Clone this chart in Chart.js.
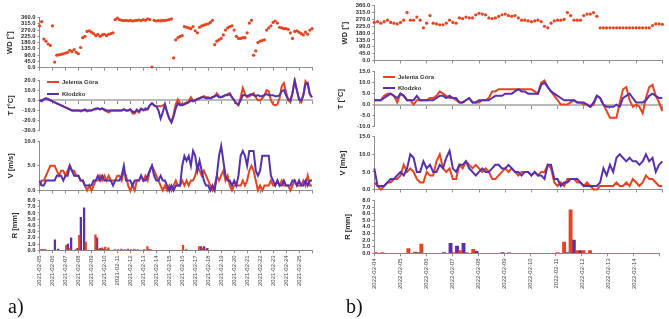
<!DOCTYPE html>
<html>
<head>
<meta charset="utf-8">
<title>Wind, temperature and precipitation – Jelenia Góra / Kłodzko</title>
<script src="https://cdn.jsdelivr.net/npm/chart.js@4.4.1/dist/chart.umd.min.js"></script>
<style>
  html, body { margin: 0; padding: 0; background: #fff; }
  #page { position: relative; width: 669px; height: 319px; overflow: hidden; font-family: 'Liberation Sans', Arial, sans-serif; }
  #page canvas { position: absolute; }
  .leg { position: absolute; font-size: 6px; font-weight: bold; color: #333; line-height: 7px; white-space: nowrap; }
  .leg b { display: inline-block; width: 12px; height: 2px; margin-right: 3px; vertical-align: middle; }
  .tag { position: absolute; font: 20px 'Liberation Serif', 'Times New Roman', serif; color: #111; line-height: 24px; }
</style>
</head>
<body>
<div id="page">
  <canvas id="wdA" width="330" height="64" style="left:0;top:10px"></canvas>
  <canvas id="tA" width="330" height="64" style="left:0;top:74px"></canvas>
  <canvas id="vA" width="330" height="61" style="left:0;top:135px"></canvas>
  <canvas id="rA" width="330" height="105" style="left:0;top:195px"></canvas>

  <canvas id="wdB" width="339" height="66" style="left:330px;top:0"></canvas>
  <canvas id="tB" width="339" height="66" style="left:330px;top:66px"></canvas>
  <canvas id="vB" width="339" height="64" style="left:330px;top:131px"></canvas>
  <canvas id="rB" width="339" height="105" style="left:330px;top:195px"></canvas>

  <div class="leg" style="left:47px;top:79px"><b style="background:#e8431c"></b>Jelenia Góra</div>
  <div class="leg" style="left:47px;top:91px"><b style="background:#5530b4"></b>Kłodzko</div>
  <div class="leg" style="left:383px;top:73.5px"><b style="background:#e8431c"></b>Jelenia Góra</div>
  <div class="leg" style="left:383px;top:84.5px"><b style="background:#5530b4"></b>Kłodzko</div>

  <div class="tag" style="left:8px;top:294px">a)</div>
  <div class="tag" style="left:346px;top:294px">b)</div>
</div>

<script>
// ---- data ---------------------------------------------------------------
const DAYS_A = ['2021-02-05', '2021-02-06', '2021-02-07', '2021-02-08', '2021-02-09', '2021-02-10', '2021-02-11',
  '2021-02-12', '2021-02-13', '2021-02-14', '2021-02-15', '2021-02-16', '2021-02-17', '2021-02-18',
  '2021-02-19', '2021-02-20', '2021-02-21', '2021-02-22', '2021-02-23', '2021-02-24', '2021-02-25'];
const DAYS_B = ['2022-02-04', '2022-02-05', '2022-02-06', '2022-02-07', '2022-02-08', '2022-02-09',
  '2022-02-10', '2022-02-11', '2022-02-12', '2022-02-13', '2022-02-14'];

// 2021 episode: 4-hourly readings from 2021-02-05 00:00
const WD_A = [300, 330, 205, 190, 170, 160, 300, 40, 90, 92, 95, 100, 105, 110, 125, 115, 130, 110,
  100, 145, 215, 225, 260, 265, 255, 245, 230, 240, 225, 235, 240, 230, 240, 245, 250, 345,
  355, 345, 340, 338, 340, 336, 340, 335, 338, 340, 342, 338, 345, 340, 350, 345, 5, 340,
  335, 338, 336, 340, 338, 342, 345, 350, 70, 200, 215, 225, 230, 295, 290, 285, 280, 295,
  265, 250, 290, 300, 305, 310, 315, 325, 340, 165, 190, 200, 210, 235, 270, 285, 295, 300,
  270, 225, 210, 210, 215, 215, 250, 320, 340, 90, 120, 180, 190, 195, 200, 270, 285, 300,
  325, 335, 320, 290, 285, 280, 280, 275, 250, 210, 260, 265, 255, 245, 235, 255, 240, 270, 280];
const T_A_JG = [0, 0, 1, 2, 1, 0, -1, -2, -3, -4, -5, -6, -7, -8, -9, -10, -10, -10,
  -10, -11, -10, -10, -11, -10, -10, -9, -9, -8, -9, -8, -10, -11, -12, -10, -10, -10,
  -10, -10, -10, -9, -10, -10, -9, -13, -13, -10, -12, -9, -9, -10, -8, -5, -3, -5,
  -6, -6, -6, -5, -4, -12, -18, -21, -14, -4, 1, -3, -4, -3, -2, -1, 3, 0,
  0, 1, 2, 3, 4, 3, 3, 2, 3, 4, 7, 4, 3, 4, 5, 6, 7, 3,
  0, -3, -5, 3, 12, 6, 3, 4, 5, 7, 3, 0, 0, 2, 5, 10, 9, 0,
  -4, -5, -4, 2, 14, 17, 8, 0, -2, 8, 20, 10, 1, -2, 5, 19, 16, 6, 3];
const T_A_KL = [0, -1, 1, 2, 1, 0, -1, -2, -3, -4, -5, -6, -7, -8, -9, -10, -10, -10,
  -10, -10, -10, -9, -10, -10, -10, -9, -8, -8, -9, -8, -9, -10, -10, -10, -10, -10,
  -10, -10, -10, -9, -10, -10, -9, -11, -12, -9, -11, -8, -10, -8, -9, -5, -3, -5,
  -6, -10, -18, -12, -4, -12, -18, -22, -16, -8, -3, -5, -5, -4, -3, -2, 0, -1,
  0, 1, 2, 3, 3, 2, 2, 2, 3, 4, 5, 3, 3, 4, 5, 5, 6, 3,
  0, -3, -4, 0, 5, 5, 4, 5, 6, 5, 4, 5, 4, 4, 5, 6, 5, 5,
  5, 4, 4, 5, 9, 10, 5, 1, 0, 7, 19, 10, 1, 0, 5, 16, 17, 6, 3];
const V_A_JG = [1, 2, 2, 3, 4, 5, 5, 5, 4, 3, 4, 4, 3, 4, 5, 4, 4, 3,
  3, 2, 2, 1, 0, 1, 0, 1, 2, 2, 3, 2, 3, 2, 3, 2, 2, 2,
  3, 3, 2, 4, 3, 1, 0, 1, 0, 2, 2, 3, 2, 3, 2, 4, 5, 4,
  3, 2, 1, 0, 1, 0, 1, 0, 1, 2, 1, 1, 2, 1, 2, 1, 2, 2,
  3, 5, 4, 3, 4, 3, 2, 1, 0, 1, 3, 2, 3, 4, 2, 3, 1, 0,
  1, 1, 1, 1, 2, 1, 2, 4, 5, 4, 2, 0, 1, 0, 1, 1, 1, 2,
  1, 1, 2, 1, 2, 1, 1, 1, 0, 1, 2, 1, 1, 1, 2, 1, 3, 1, 1];
const V_A_KL = [2, 1, 1, 2, 2, 2, 2, 2, 3, 3, 3, 2, 3, 3, 5, 4, 3, 3,
  3, 2, 2, 1, 1, 1, 1, 2, 2, 3, 2, 3, 2, 2, 2, 2, 1, 2,
  2, 2, 3, 5, 2, 2, 2, 1, 2, 2, 2, 3, 2, 2, 3, 4, 5, 3,
  2, 2, 3, 2, 2, 1, 0, 1, 0, 1, 1, 1, 5, 7, 6, 7, 5, 8,
  7, 4, 6, 4, 2, 1, 1, 0, 1, 0, 3, 7, 9, 6, 3, 2, 2, 1,
  2, 1, 3, 7, 8, 7, 5, 8, 8, 8, 4, 3, 4, 7, 7, 7, 7, 3,
  2, 1, 2, 1, 1, 2, 1, 1, 1, 2, 2, 1, 2, 1, 1, 2, 1, 2, 2];
// 6-hourly precipitation totals
const R_A_JG = [0.1, 0.1, 0, 0, 0, 0, 0, 0, 0.8, 0.3, 0, 0.1, 2.4, 0, 1.3, 0,
  0, 2.5, 0.2, 0.4, 0.5, 0.4, 0, 0.1, 0.1, 0.2, 0.1, 0.2, 0.1, 0.2, 0.1, 0,
  0.1, 0.6, 0.1, 0, 0, 0, 0, 0, 0, 0, 0, 0, 0.8, 0.1, 0, 0,
  0, 0.6, 0.4, 0.1, 0, 0, 0, 0, 0, 0, 0, 0, 0, 0, 0, 0,
  0, 0, 0, 0, 0, 0, 0, 0, 0, 0, 0, 0, 0, 0, 0, 0, 0, 0, 0, 0];
const R_A_KL = [0.1, 0.1, 0, 0, 1.7, 0.2, 0, 0, 1.0, 2.0, 0, 0.3, 5.3, 6.8, 0, 0,
  0, 2.0, 0.3, 0.2, 0.1, 0, 0, 0, 0, 0, 0, 0, 0, 0, 0, 0,
  0, 0.1, 0, 0, 0, 0, 0, 0, 0, 0, 0, 0, 0, 0, 0, 0,
  0, 0.6, 0.6, 0.3, 0, 0, 0, 0, 0, 0, 0, 0, 0, 0, 0, 0,
  0, 0, 0, 0, 0, 0, 0, 0, 0, 0, 0, 0, 0, 0, 0, 0, 0, 0, 0, 0];

// 2022 episode: 3-hourly readings from 2022-02-04 00:00
const WD_B = [250, 255, 245, 255, 265, 250, 245, 240, 250, 265, 315, 265, 265, 285, 265, 215,
  245, 295, 245, 240, 235, 235, 245, 265, 250, 245, 280, 275, 285, 280, 280, 300,
  310, 305, 300, 280, 275, 280, 290, 300, 305, 295, 290, 295, 280, 265, 265, 260,
  255, 260, 265, 255, 225, 215, 245, 260, 265, 265, 270, 315, 295, 265, 265, 265,
  295, 305, 305, 315, 290, 215, 215, 215, 215, 215, 215, 215, 215, 215, 215, 215,
  215, 215, 215, 215, 215, 230, 240, 240, 238];
const T_B_JG = [2, 2, 2, 4, 5, 5, 4, 1, 5, 4, 2, 2, 0, 2, 2, 2,
  2, 3, 3, 4, 6, 5, 4, 3, 3, 2, 1, 1, 2, 3, 1, 1,
  1, 2, 2, 3, 6, 6, 7, 7, 7, 7, 7, 7, 7, 7, 7, 7,
  7, 6, 5, 10, 11, 8, 6, 4, 2, 0, 0, 0, 1, 2, 1, 1,
  0, 0, -1, 0, 4, 3, 0, -3, -6, -6, -6, 1, 7, 8, 2, -1,
  0, -1, -4, 3, 8, 9, 4, 1, -3];
const T_B_KL = [2, 2, 2, 3, 4, 5, 4, 3, 5, 4, 2, 2, 2, 4, 2, 2,
  2, 2, 2, 3, 4, 4, 3, 4, 3, 3, 1, 1, 2, 3, 1, 1,
  2, 2, 2, 2, 3, 4, 4, 4, 5, 5, 5, 6, 7, 6, 6, 5,
  5, 5, 5, 9, 10, 8, 6, 5, 4, 3, 2, 2, 2, 2, 1, 1,
  1, 0, -1, 1, 4, 3, 0, -1, -1, -1, 0, -1, 3, 4, 5, 3,
  1, 1, 1, 2, 4, 5, 4, 3, 3];
const V_B_JG = [2, 1, 0, 1, 2, 2, 3, 3, 4, 7, 5, 6, 5, 3, 2, 2,
  5, 4, 4, 8, 10, 6, 5, 6, 3, 3, 7, 6, 8, 7, 6, 7,
  6, 5, 6, 5, 3, 3, 4, 5, 6, 5, 6, 5, 4, 5, 5, 5,
  4, 5, 4, 5, 5, 7, 6, 2, 1, 2, 1, 3, 3, 3, 2, 2,
  1, 2, 1, 0, 0, 1, 1, 1, 1, 1, 2, 1, 1, 2, 1, 3,
  2, 1, 2, 4, 3, 3, 2, 1, 1];
const V_B_KL = [6, 1, 1, 1, 2, 3, 3, 4, 5, 4, 6, 10, 9, 5, 5, 8,
  6, 7, 5, 5, 7, 6, 9, 11, 6, 5, 7, 7, 8, 6, 5, 4,
  5, 6, 5, 5, 6, 7, 7, 6, 6, 7, 6, 5, 5, 4, 5, 5,
  4, 5, 4, 4, 3, 7, 7, 3, 3, 1, 2, 2, 3, 3, 3, 2,
  1, 1, 1, 1, 1, 2, 6, 4, 7, 5, 9, 10, 9, 8, 9, 8,
  8, 7, 8, 10, 8, 9, 5, 7, 8];
const R_B_JG = [0.1, 0.1, 0, 0, 0, 0.7, 0.2, 1.4, 0, 0, 0, 0, 0.1, 0.4, 0.1, 0.6,
  0, 0, 0, 0, 0, 0, 0, 0, 0, 0, 0, 0, 0.1, 1.7, 6.6, 0.4,
  0.4, 0.4, 0, 0, 0, 0, 0, 0, 0, 0, 0, 0];
const R_B_KL = [0, 0, 0, 0, 0, 0, 0.1, 0, 0, 0, 0.1, 1.5, 1.1, 1.5, 0, 0.3,
  0, 0, 0, 0.1, 0.05, 0, 0, 0, 0, 0, 0, 0, 0, 0.1, 2.0, 0.4,
  0, 0, 0, 0, 0, 0, 0, 0, 0, 0, 0, 0];

// ---- styling ------------------------------------------------------------
const RED = '#e8431c', BLUE = '#5530b4';
const AXIS = '#8e8e8e', ZERO = '#b9b9b9', INK = '#2b2b2b';
const FONT = "'Liberation Sans', Arial, sans-serif";

const pts = (vals, stepH, offH = 0) => vals.map((v, i) => ({ x: i * stepH + offH, y: v }));

const line = (label, vals, stepH, color) => ({
  label, data: pts(vals, stepH), borderColor: color, backgroundColor: color,
  borderWidth: 2, pointRadius: 0, tension: 0, clip: 3,
});
const dots = (vals, stepH) => ({
  label: 'WD', data: pts(vals, stepH), showLine: false, pointRadius: 1.6,
  pointBorderWidth: 0, pointBackgroundColor: RED, clip: 3,
});
const bars = (label, vals, color) => ({
  label, data: pts(vals, 6, 3), backgroundColor: color, borderWidth: 0,
  categoryPercentage: 1, barPercentage: 1,
});

// o.left/top/right/bottom = plot-area edges inside the canvas
function panel(id, o) {
  const canvas = document.getElementById(id);
  const W = canvas.width, H = canvas.height;
  return new Chart(canvas, {
    type: o.type || 'line',
    data: { datasets: o.datasets },
    options: {
      responsive: false, animation: false, events: [],
      layout: { padding: { left: 0, top: o.top, right: W - o.right, bottom: o.zeroAxis ? H - o.bottom : 0 } },
      plugins: { legend: { display: false }, tooltip: { enabled: false } },
      scales: {
        x: {
          type: 'linear', min: 0, max: o.days * 24, offset: false,
          position: o.zeroAxis ? { y: 0 } : 'bottom',
          grid: { drawOnChartArea: false, drawTicks: true, tickLength: 3, color: AXIS, offset: false },
          border: { color: o.zeroAxis ? ZERO : AXIS, width: o.zeroAxis ? 2 : 1 },
          ticks: {
            stepSize: 24, autoSkip: false, display: !!o.dates,
            minRotation: o.dates ? 90 : 0, maxRotation: o.dates ? 90 : 0, padding: 2,
            color: '#444', font: { size: 6, family: FONT },
            callback: v => (o.dates && o.dates[Math.round(v / 24)]) || '',
          },
          afterFit: s => { if (!o.zeroAxis) s.height = H - o.bottom; },
        },
        y: {
          min: o.yMin, max: o.yMax,
          grid: { drawOnChartArea: false, tickLength: 2, color: AXIS },
          border: { color: AXIS },
          ticks: {
            stepSize: o.yStep, autoSkip: false, padding: 2, color: INK,
            font: { size: 5.8, weight: 'bold', family: FONT },
            callback: v => v.toFixed(1),
          },
          title: {
            display: true, text: o.title, color: INK,
            font: { size: 7.5, weight: 'bold', family: FONT },
            padding: { top: o.titlePad, bottom: 0 },
          },
          afterFit: s => { s.width = o.left; },
        },
      },
    },
  });
}

// ---- a) 2021 ------------------------------------------------------------
const A = { left: 39.5, right: 312, days: 21 };
panel('wdA', { ...A, top: 7.5, bottom: 57.7, yMin: 0, yMax: 360, yStep: 45, title: 'WD [°]', titlePad: 5,
  datasets: [dots(WD_A, 4)] });
panel('tA', { ...A, top: 6, bottom: 56.7, yMin: -30, yMax: 20, yStep: 10, title: 'T [°C]', titlePad: 6.3, zeroAxis: true,
  datasets: [line('Kłodzko', T_A_KL, 4, BLUE), line('Jelenia Góra', T_A_JG, 4, RED)] });
panel('vA', { ...A, top: 6, bottom: 56, yMin: 0, yMax: 10, yStep: 5, title: 'V [m/s]', titlePad: 6.7,
  datasets: [line('Kłodzko', V_A_KL, 4, BLUE), line('Jelenia Góra', V_A_JG, 4, RED)] });
panel('rA', { ...A, type: 'bar', top: 4.3, bottom: 55.3, yMin: 0, yMax: 8, yStep: 1, title: 'R [mm]', titlePad: 10,
  dates: DAYS_A, datasets: [bars('Jelenia Góra', R_A_JG, RED), bars('Kłodzko', R_A_KL, BLUE)] });

// ---- b) 2022 ------------------------------------------------------------
const B = { left: 44.3, right: 332.3, days: 11 };
panel('wdB', { ...B, top: 5.7, bottom: 61, yMin: 0, yMax: 360, yStep: 45, title: 'WD [°]', titlePad: 10.5,
  datasets: [dots(WD_B, 3)] });
panel('tB', { ...B, top: 5.7, bottom: 60.7, yMin: -10, yMax: 15, yStep: 5, title: 'T [°C]', titlePad: 6.8, zeroAxis: true,
  datasets: [line('Kłodzko', T_B_KL, 3, BLUE), line('Jelenia Góra', T_B_JG, 3, RED)] });
panel('vB', { ...B, top: 5.7, bottom: 59.7, yMin: 0, yMax: 15, yStep: 5, title: 'V [m/s]', titlePad: 8.5,
  datasets: [line('Kłodzko', V_B_KL, 3, BLUE), line('Jelenia Góra', V_B_JG, 3, RED)] });
panel('rB', { ...B, type: 'bar', top: 4.3, bottom: 58.3, yMin: 0, yMax: 8, yStep: 1, title: 'R [mm]', titlePad: 13.3,
  dates: DAYS_B, datasets: [bars('Jelenia Góra', R_B_JG, RED), bars('Kłodzko', R_B_KL, BLUE)] });
</script>
</body>
</html>
